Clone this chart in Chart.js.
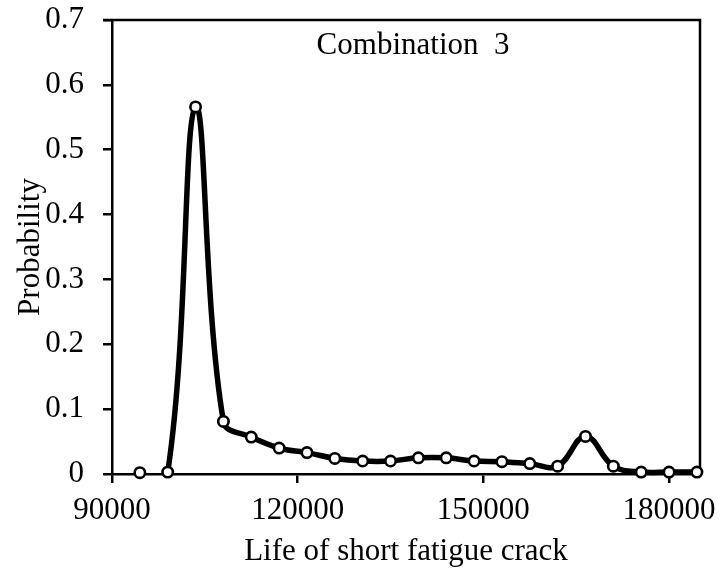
<!DOCTYPE html>
<html>
<head>
<meta charset="utf-8">
<script src="https://cdn.jsdelivr.net/npm/chart.js@4.4.1/dist/chart.umd.min.js"></script>
<style>
  html, body { margin: 0; padding: 0; background: #fff; }
  #wrap { width: 720px; height: 573px; }
</style>
</head>
<body>
<div id="wrap"><canvas id="crackChart"></canvas></div>
<script>
// data
const lifeCycles = [94500, 99000, 103500, 108000, 112500, 117000, 121500, 126000, 130500, 135000,
                    139500, 144000, 148500, 153000, 157500, 162000, 166500, 171000, 175500, 180000, 184500];
const probability = [0.002, 0.003, 0.566, 0.081, 0.057, 0.040, 0.033, 0.024, 0.020, 0.020,
                     0.025, 0.025, 0.020, 0.019, 0.016, 0.012, 0.058, 0.012, 0.003, 0.003, 0.003];
const xTickValues = [90000, 120000, 150000, 180000];
const yTickValues = [0, 0.1, 0.2, 0.3, 0.4, 0.5, 0.6, 0.7];
const panelLabel = 'Combination  3';
const xTitle = 'Life of short fatigue crack';
const yTitle = 'Probability';

const FONT = { family: 'Liberation Serif', size: 31 };
const INK = '#000000';

// top + right frame and the panel label inside the plot
const framePlugin = {
  id: 'frame',
  beforeDatasetsDraw(chart) {
    const { ctx, chartArea: a } = chart;
    ctx.save();
    ctx.strokeStyle = INK;
    ctx.lineWidth = 2.5;
    ctx.beginPath();
    ctx.moveTo(a.left - 9, a.top);
    ctx.lineTo(a.right, a.top);
    ctx.lineTo(a.right, a.bottom);
    ctx.stroke();
    ctx.fillStyle = INK;
    ctx.font = `${FONT.size}px ${FONT.family}`;
    ctx.textAlign = 'center';
    ctx.textBaseline = 'middle';
    ctx.fillText(panelLabel, a.left + (a.right - a.left) * 0.512, a.top + 26);
    ctx.restore();
  },
};

// keep the plot box where the reference has it, no label overhang padding
const noOverhang = s => {
  s.paddingTop = 0; s.paddingBottom = 0; s.paddingLeft = 0; s.paddingRight = 0;
};

new Chart(document.getElementById('crackChart'), {
  type: 'line',
  data: {
    datasets: [{
      data: lifeCycles.map((x, i) => ({ x, y: probability[i] })),
      borderColor: INK,
      borderWidth: 5.5,
      tension: 0.4,
      pointRadius: 5.2,
      pointBorderWidth: 2.6,
      pointBorderColor: INK,
      pointBackgroundColor: '#ffffff',
      clip: false,
      segment: {
        borderColor: c => (c.p0DataIndex === 0 ? 'rgba(0,0,0,0)' : INK),
      },
    }],
  },
  options: {
    responsive: true,
    maintainAspectRatio: false,
    animation: false,
    layout: { padding: { top: 20, right: 20, left: 0, bottom: 0 } },
    plugins: { legend: { display: false }, tooltip: { enabled: false } },
    scales: {
      x: {
        type: 'linear',
        min: 90000,
        max: 185000,
        afterBuildTicks: s => { s.ticks = xTickValues.map(v => ({ value: v })); },
        afterFit: s => { s.height = 99; noOverhang(s); },
        ticks: { color: INK, font: FONT, padding: 9, maxRotation: 0, callback: v => String(v) },
        grid: { drawOnChartArea: false, drawTicks: true, tickLength: 9, color: INK, lineWidth: 2.5 },
        border: { display: true, color: INK, width: 2.5 },
        title: { display: true, text: xTitle, color: INK, font: FONT, padding: { top: 0, bottom: 3 } },
      },
      y: {
        min: 0,
        max: 0.7,
        afterBuildTicks: s => { s.ticks = yTickValues.map(v => ({ value: v })); },
        afterFit: s => { s.width = 112; noOverhang(s); },
        ticks: { color: INK, font: FONT, padding: 19, callback: v => (v === 0 ? '0' : v.toFixed(1)) },
        grid: { drawOnChartArea: false, drawTicks: true, tickLength: 9, color: INK, lineWidth: 2.5 },
        border: { display: true, color: INK, width: 2.5 },
        title: { display: true, text: yTitle, color: INK, font: FONT, padding: { top: 12, bottom: 0 } },
      },
    },
  },
  plugins: [framePlugin],
});
</script>
</body>
</html>
